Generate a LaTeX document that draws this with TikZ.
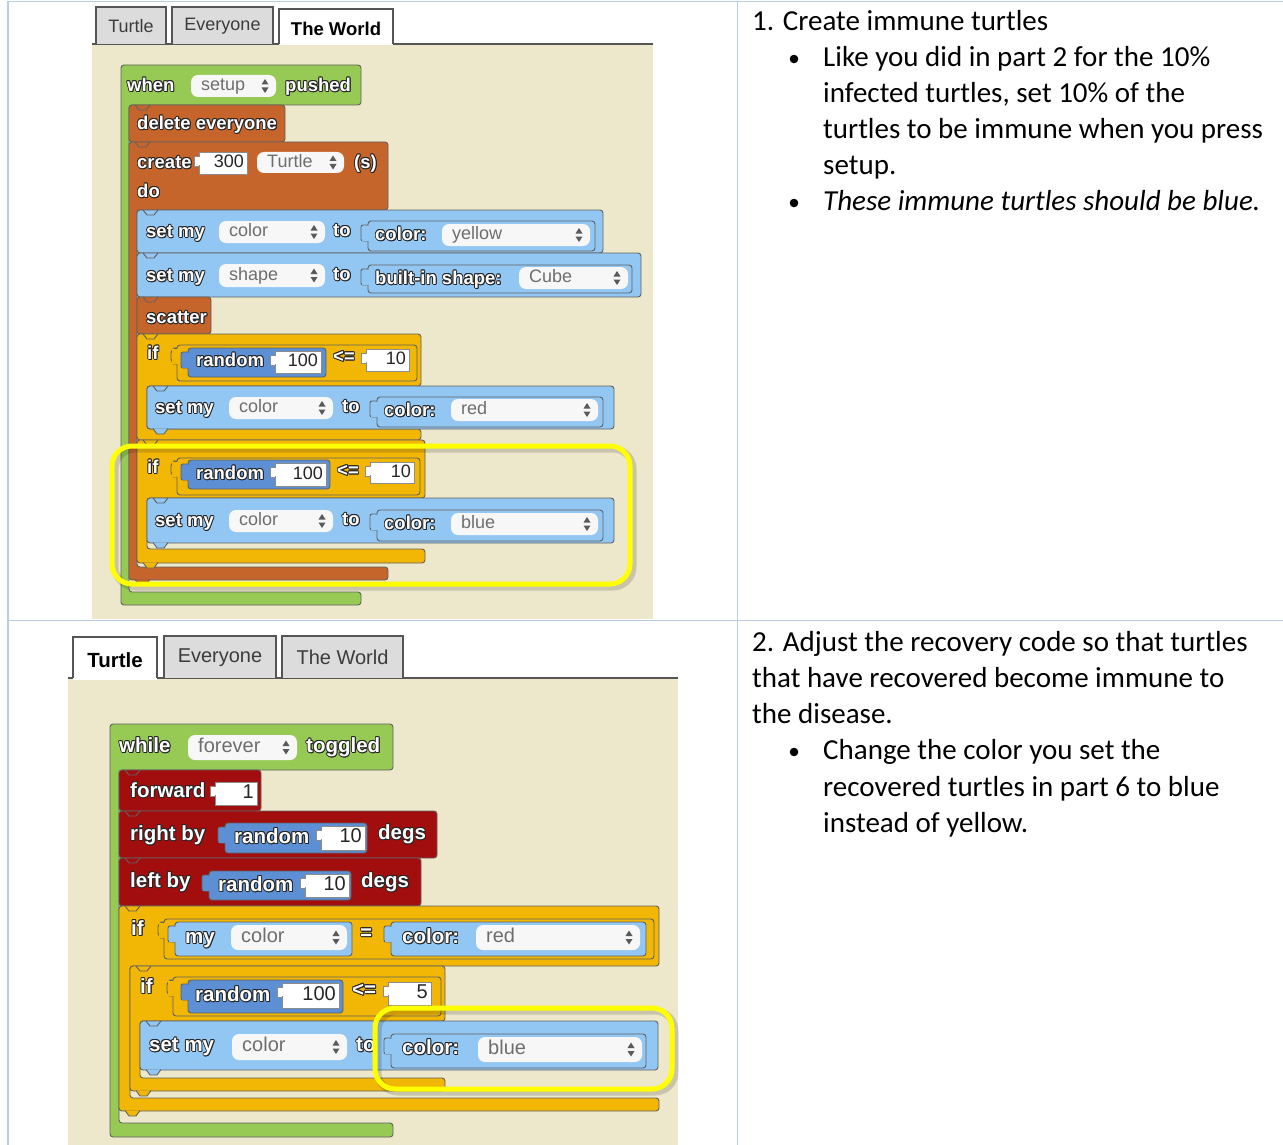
\documentclass[tikz,border=0pt]{standalone}
\usepackage{fontspec}
\setmainfont{Liberation Sans}
\newfontfamily\calfont{Carlito}
\definecolor{beige}{HTML}{EDE8CB}
\definecolor{grn}{HTML}{96CA55}
\definecolor{org}{HTML}{C5652B}
\definecolor{lbl}{HTML}{92C6F3}
\definecolor{dbl}{HTML}{5C8FD4}
\definecolor{gld}{HTML}{F2B705}
\definecolor{drd}{HTML}{A20E0E}
\definecolor{tblc}{HTML}{B8CCE4}
\definecolor{tabg}{HTML}{DCDCDC}
\definecolor{pillc}{HTML}{F7F7F7}
\definecolor{pilltxt}{HTML}{6E6E6E}
\definecolor{arrowc}{HTML}{5A5A5A}
\definecolor{tdark}{HTML}{262626}
\definecolor{numtxt}{HTML}{262626}
\definecolor{hl}{HTML}{FFFF00}
\definecolor{tabline}{HTML}{555555}
\definecolor{tabtxt}{HTML}{3C3C3C}
\def\bfont{\fontsize{18}{18}\selectfont\bfseries}
\def\pfont{\fontsize{18}{18}\selectfont}
\tikzset{
 blk/.style={draw=black!62, line width=0.9, rounded corners=3},
 numb/.style={draw=black!45, line width=0.8},
 btn/.style={anchor=mid west, inner sep=0, font=\bfont, yshift=-2.5pt},
 rtxt/.style={anchor=base west, inner sep=0, font=\calfont\fontsize{29}{29}\selectfont},
 tabtext/.style={inner sep=0, text=tabtxt},
}
\newcommand\sblk[5]{\draw[blk, fill=#5] (#1,#2) rectangle (#3,#4);}
\newcommand\cblk[9]{\draw[blk, fill=#9] (#1,#2) -- (#3,#2) -- (#3,#4) -- (#1+#5,#4) -- (#1+#5,#6) -- (#8,#6) -- (#8,#7) -- (#1,#7) -- cycle;}
\newcommand\notch[2]{\draw[draw=black!62, line width=0.9] (#1,#2) -- (#1+4,#2+5) -- (#1+11,#2+5) -- (#1+15,#2);}
\newcommand\bump[3]{\draw[draw=black!62, line width=0.9, fill=#3] (#1,#2-0.5) -- (#1+4,#2+5) -- (#1+11,#2+5) -- (#1+15,#2-0.5);}
\newcommand\pill[5]{%
 \fill[pillc, rounded corners=7] (#1,#2) rectangle (#3,#4);
 \node[anchor=mid west, inner sep=0, text=pilltxt, font=\pfont, yshift=-2pt] at (#1+10,{(#2+#4)/2}) {#5};
 \fill[arrowc] (#3-14.5,{(#2+#4)/2-1.5}) -- (#3-7.5,{(#2+#4)/2-1.5}) -- (#3-11,{(#2+#4)/2-7}) -- cycle;
 \fill[arrowc] (#3-14.5,{(#2+#4)/2+1.5}) -- (#3-7.5,{(#2+#4)/2+1.5}) -- (#3-11,{(#2+#4)/2+7}) -- cycle;}
\newcommand\numin[5]{%
 \draw[numb, fill=white] (#1-5,#2+4) rectangle (#1+1,#2+14);
 \draw[numb, fill=white] (#1,#2) rectangle (#3,#4);
 \fill[white] (#1-4.5,#2+4.6) rectangle (#1+1.5,#2+13.4);
 \node[anchor=mid east, inner sep=0, font=\pfont, text=numtxt, yshift=-2pt] at (#3-3,{(#2+#4)/2}) {#5};}
\newcommand\rep[5]{%
 \draw[blk, fill=#5, rounded corners=2] (#1-7,#2+4) rectangle (#1+2,#2+20);
 \draw[blk, fill=#5] (#1,#2) rectangle (#3,#4);
 \fill[#5] (#1-6.5,#2+4.5) rectangle (#1+2,#2+19.5);}
\newcommand\cmp[4]{%
 \draw[blk, fill=gld, rounded corners=5] (#1-6,#2+3) rectangle (#1+3,#2+19);
 \draw[blk, fill=gld] (#1,#2) rectangle (#3,#4);
 \fill[gld] (#1-5.5,#2+3.5) rectangle (#1+3,#2+18.5);}
% white block text with a dark outline (dark copies under a white copy)
\newcommand\bt[3]{%
 \foreach \dx/\dy in {-0.9/0,0.9/0,0/0.9,0/-0.9,-0.7/0.7,0.7/0.7,-0.7/-0.7,0.7/-0.7,0.9/-1.4,0.3/-1.5}{%
  \node[btn, text=tdark, xshift=\dx pt, yshift=\dy pt] at (#1,#2) {#3};}
 \node[btn, text=white] at (#1,#2) {#3};}
\newcommand\hilite[4]{%
 \draw[line width=7, black, opacity=0.15, rounded corners=20] (#1+3,#2+3) rectangle (#3+3,#4+3);
 \draw[line width=5, hl, rounded corners=20] (#1,#2) rectangle (#3,#4);}
\newcommand\bul[2]{\fill[black] (#1,#2) circle (4.3);}
\begin{document}
\begin{tikzpicture}[x=1pt,y=-1pt]
\useasboundingbox (0,0) rectangle (1283,1145);
\fill[white] (0,0) rectangle (1283,1145);
% table grid
\draw[tblc, line width=1.5] (8,1.5) -- (1283,1.5);
\draw[tblc, line width=1.5] (8,620.5) -- (1283,620.5);
\draw[tblc, line width=1.8] (8,0.75) -- (8,1145);
\draw[tblc, line width=1.5] (737.5,0.75) -- (737.5,1145);

% ================= TOP SCREENSHOT =================
\begin{scope}
\def\bfont{\fontsize{18.5}{18.5}\selectfont\bfseries}
\def\pfont{\fontsize{18}{18}\selectfont}
\fill[white] (92,3) rectangle (653,44);
\fill[beige] (92,44) rectangle (653,619);
\draw[tabline, line width=1.5] (92,44) -- (653,44);
\draw[tabline, line width=1.5, fill=tabg] (96,44) -- (96,7) -- (166,7) -- (166,44);
\draw[tabline, line width=1.5, fill=tabg] (172,44) -- (172,7) -- (273,7) -- (273,44);
\fill[white] (279,9) rectangle (393,45.5);
\draw[tabline, line width=1.5] (279,44) -- (279,9) -- (393,9) -- (393,44);
\node[tabtext, font=\pfont] (t1) at (131,26.5) {Turtle};
\node[tabtext, font=\pfont] (t2) at (222.5,26.5) {Everyone};
\node[tabtext, font=\bfont, text=black] (t3) at (336,28.5) {The World};
% blocks
\cblk{121}{65}{361}{105}{8}{592}{605}{361}{grn}
\sblk{129}{105}{285}{142}{org}
\cblk{129}{142}{388}{210}{8}{567}{580}{388}{org}
\sblk{137}{210}{603}{253}{lbl}
\sblk{137}{253}{641}{297}{lbl}
\sblk{137}{297}{211}{334}{org}
\cblk{137}{334}{421}{386}{10}{429}{440}{421}{gld}
\sblk{147}{386}{614}{429}{lbl}
\cblk{137}{440}{425}{498}{10}{549}{563}{425}{gld}
\sblk{147}{498}{614}{543}{lbl}
\notch{135}{105}\notch{135}{142}\notch{143}{210}\notch{143}{253}\notch{143}{297}
\notch{143}{334}\notch{153}{386}\notch{143}{440}\notch{153}{498}
\bump{153}{429}{lbl}\bump{153}{543}{lbl}\bump{143}{563}{gld}\bump{135}{580}{org}
% contents
\bt{127}{86}{when}\pill{191}{75}{276}{97}{setup}\bt{285}{86}{pushed}
\bt{137}{124}{delete everyone}
\bt{137}{163}{create}\numin{199}{152}{247}{174}{300}\pill{257}{152}{344}{173}{Turtle}\bt{354}{163}{(s)}
\bt{137}{192}{do}
\bt{146}{232}{set my}\pill{219}{221}{325}{243}{color}\bt{333}{231}{to}
\rep{368}{221}{595}{251}{lbl}\bt{375}{235}{color:}\pill{442}{224}{590}{246}{yellow}
\bt{146}{276}{set my}\pill{219}{264}{325}{287}{shape}\bt{333}{275}{to}
\rep{368}{265}{632}{293}{lbl}\bt{375}{279}{built-in shape:}\pill{519}{267}{628}{289}{Cube}
\bt{146}{318}{scatter}
\bt{147}{354}{if}\cmp{177}{345}{417}{381}\rep{188}{348}{326}{377}{dbl}\bt{196}{361}{random}
\numin{275}{351}{321}{373}{100}\bt{333}{357}{<=}\numin{366}{349}{409}{371}{10}
\bt{155}{408}{set my}\pill{229}{397}{333}{419}{color}\bt{342}{407}{to}
\rep{377}{397}{603}{427}{lbl}\bt{384}{411}{color:}\pill{451}{399}{598}{421}{red}
\bt{147}{468}{if}\cmp{177}{458}{420}{495}\rep{188}{460}{330}{489}{dbl}\bt{196}{474}{random}
\numin{275}{463}{326}{486}{100}\bt{337}{471}{<=}\numin{370}{462}{414}{483}{10}
\bt{155}{521}{set my}\pill{229}{510}{333}{532}{color}\bt{342}{520}{to}
\rep{377}{510}{603}{541}{lbl}\bt{384}{524}{color:}\pill{451}{513}{598}{535}{blue}
\hilite{112}{446}{630}{584}
\end{scope}

% ================= BOTTOM SCREENSHOT =================
\begin{scope}
\def\bfont{\fontsize{20.5}{20.5}\selectfont\bfseries}
\def\pfont{\fontsize{20}{20}\selectfont}
\fill[white] (68,622) rectangle (678,678);
\fill[beige] (68,678) rectangle (678,1145);
\draw[tabline, line width=1.5] (68,678) -- (678,678);
\fill[white] (73,637) rectangle (157,679.5);
\draw[tabline, line width=1.5] (73,678) -- (73,637) -- (157,637) -- (157,678);
\draw[tabline, line width=1.5, fill=tabg] (164,678) -- (164,636) -- (276,636) -- (276,678);
\draw[tabline, line width=1.5, fill=tabg] (282,678) -- (282,636) -- (403,636) -- (403,678);
\node[tabtext, font=\bfont, text=black] (b1) at (115,660.5) {Turtle};
\node[tabtext, font=\pfont] (b2) at (220,657.5) {Everyone};
\node[tabtext, font=\pfont] (b3) at (342.5,657.5) {The World};
% blocks
\cblk{110}{724}{393}{770}{9}{1123}{1137}{393}{grn}
\sblk{119}{770}{261}{811}{drd}
\sblk{119}{811}{437}{858}{drd}
\sblk{119}{858}{421}{906}{drd}
\cblk{119}{906}{659}{966}{11}{1098}{1111}{659}{gld}
\cblk{130}{966}{445}{1021}{10}{1078}{1091}{445}{gld}
\sblk{140}{1021}{658}{1070}{lbl}
\notch{125}{770}\notch{125}{811}\notch{125}{858}\notch{125}{906}\notch{136}{966}\notch{146}{1021}
\bump{146}{1070}{lbl}\bump{136}{1091}{gld}\bump{125}{1111}{gld}
% contents
\bt{119}{747}{while}\pill{188}{735}{297}{760}{forever}\bt{306}{747}{toggled}
\bt{130}{792}{forward}\numin{215}{782}{257}{805}{1}
\bt{130}{835}{right by}\rep{225}{823}{367}{853}{dbl}\bt{234}{838}{random}\numin{321}{826}{365}{850}{10}\bt{378}{834}{degs}
\bt{130}{882}{left by}\rep{209}{871}{351}{900}{dbl}\bt{218}{886}{random}\numin{305}{874}{349}{897}{10}\bt{361}{882}{degs}
\bt{131}{930}{if}\cmp{164}{919}{654}{959}
\rep{175}{922}{352}{956}{lbl}\bt{185}{938}{my}\pill{231}{925}{347}{950}{color}
\bt{360}{934}{=}
\rep{391}{922}{646}{956}{lbl}\bt{402}{938}{color:}\pill{476}{925}{640}{950}{red}
\bt{140}{988}{if}\cmp{173}{977}{441}{1016}\rep{188}{980}{343}{1013}{dbl}\bt{195}{996}{random}
\numin{282}{983}{339}{1008}{100}\bt{352}{991}{<=}\numin{388}{982}{431}{1005}{5}
\bt{149}{1046}{set my}\pill{232}{1034}{347}{1060}{color}\bt{356}{1046}{to}
\rep{391}{1034}{646}{1068}{lbl}\bt{402}{1049}{color:}\pill{478}{1037}{642}{1062}{blue}
\hilite{375}{1008}{672}{1089}
\end{scope}

% ================= RIGHT TEXT =================
\node[rtxt] (r1) at (752,30.5) {1. Create immune turtles};
\bul{794}{59}
\node[rtxt] (r2) at (823,66.5) {Like you did in part 2 for the 10\%};
\node[rtxt] (r3) at (823,102.5) {infected turtles, set 10\% of the};
\node[rtxt] (r4) at (823,138.5) {turtles to be immune when you press};
\node[rtxt] (r5) at (823,174.5) {setup.};
\bul{794}{203}
\node[rtxt, font=\calfont\itshape\fontsize{29}{29}\selectfont] (r6) at (823,210.5) {These immune turtles should be blue.};
\node[rtxt] (s1) at (752,651) {2. Adjust the recovery code so that turtles};
\node[rtxt] (s2) at (752,687) {that have recovered become immune to};
\node[rtxt] (s3) at (752,723) {the disease.};
\bul{794}{752}
\node[rtxt] (s4) at (823,759.5) {Change the color you set the};
\node[rtxt] (s5) at (823,796) {recovered turtles in part 6 to blue};
\node[rtxt] (s6) at (823,832) {instead of yellow.};
\end{tikzpicture}
\end{document}
